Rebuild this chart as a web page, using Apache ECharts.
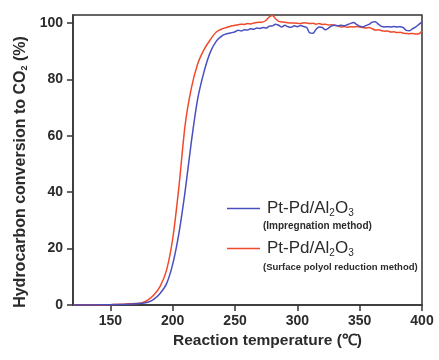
<!DOCTYPE html>
<html>
<head>
<meta charset="utf-8">
<script src="https://cdn.jsdelivr.net/npm/echarts@6/dist/echarts.min.js"></script>
<style>
html,body{margin:0;padding:0;background:#fff;}
#chart{width:439px;height:360px;}
</style>
</head>
<body>
<div id="chart"></div>
<script>
// Reaction temperature (°C)
var temps = [
  120,125,130,135,140,145,150,155,160,165,170,175,180,185,190,195,200,205,210,215,220,225,230,235,
  240,242.5,245,247.5,250,252.5,255,257.5,260,262.5,265,267.5,270,272.5,275,277.5,280,282.5,285,287.5,
  290,292.5,295,297.5,300,302.5,305,307.5,310,312.5,315,317.5,320,322.5,325,327.5,330,332.5,335,337.5,
  340,342.5,345,347.5,350,352.5,355,357.5,360,362.5,365,367.5,370,372.5,375,377.5,380,382.5,385,387.5,
  390,392.5,395,397.5,400
];
// Pt-Pd/Al2O3 (Impregnation method)
var impregnation = [
  0,0,0,0,0,0.1,0.1,0.2,0.2,0.3,0.4,0.6,1.0,2.1,4.2,7.5,14.5,25.5,40.5,58,73,82.5,89.5,93.6,
  95.6,96.1,96.4,96.6,96.9,97.4,97.2,97.6,97.5,98.0,97.8,98.2,98.1,98.4,98.2,98.9,99.0,99.6,99.2,98.6,
  99.2,98.7,98.5,99.0,98.7,99.1,98.8,98.4,96.5,96.4,97.8,98.6,98.4,97.6,98.2,99.0,99.2,99.0,99.2,99.0,
  99.4,99.8,100.2,99.5,98.9,98.6,99.1,99.5,100.3,100.5,99.6,98.8,98.6,98.7,98.6,98.8,98.6,98.7,98.4,97.4,
  97.3,98.0,98.6,99.5,100.4
];
// Pt-Pd/Al2O3 (Surface polyol reduction method)
var polyol = [
  0,0,0,0,0,0,0.1,0.2,0.3,0.4,0.5,0.7,1.7,3.6,6.7,12.3,23.5,42,64,77,85.5,90.5,94,96.8,
  98.0,98.3,98.7,99.0,99.2,99.4,99.6,99.5,99.8,99.7,100.0,100.2,100.3,100.4,101.0,102.2,102.7,101.5,100.6,100.4,
  100.3,100.1,100.0,100.0,99.9,99.8,100.1,100.0,99.8,99.9,99.6,99.8,99.5,99.6,99.3,99.4,99.2,99.0,98.6,98.8,
  98.5,98.7,98.6,98.8,98.6,98.4,98.2,98.4,98.0,97.5,97.6,97.3,97.1,97.2,96.8,96.9,96.6,96.7,96.4,96.3,
  96.2,96.3,96.1,96.2,97.2
];
var xTicks = [150,200,250,300,350,400];
var yTicks = [0,20,40,60,80,100];

function pairs(xs, ys){ return xs.map(function(x,i){ return [x, ys[i]]; }); }

var FONT = 'Liberation Sans, Arial, sans-serif';
var TXT = '#2b2b2b';
var chart = echarts.init(document.getElementById('chart'), null, {renderer:'canvas'});
var legRich = {
  a:{fontSize:17, fontFamily:FONT, color:TXT},
  s:{fontSize:10, fontFamily:FONT, color:TXT, verticalAlign:'bottom', padding:[9,0,0,0]}
};
chart.setOption({
  backgroundColor:'#ffffff',
  animation:false,
  grid:{left:73, right:17, top:15, bottom:55, show:true, borderColor:'#333', borderWidth:1.5, backgroundColor:'transparent'},
  xAxis:{
    type:'value', min:120, max:400,
    name:'Reaction temperature (℃)', nameLocation:'middle', nameGap:27,
    nameTextStyle:{fontSize:15.5, fontWeight:'bold', fontFamily:FONT, color:TXT, padding:[0,0,0,40]},
    axisLine:{show:true, lineStyle:{color:'#333', width:1.5}},
    axisTick:{show:true, inside:false, length:6, lineStyle:{color:'#333', width:1.5}, customValues:xTicks},
    axisLabel:{fontSize:14, fontWeight:'bold', fontFamily:FONT, color:TXT, margin:9, customValues:xTicks},
    splitLine:{show:false}
  },
  yAxis:{
    type:'value', min:0, max:102.85,
    name:'{a|Hydrocarbon conversion to CO}{s|2}{a| (%)}', nameLocation:'middle', nameGap:41, nameRotate:90,
    nameTextStyle:{padding:[0,24,0,0], rich:{
      a:{fontSize:16, fontWeight:'bold', fontFamily:FONT, color:TXT},
      s:{fontSize:9, fontWeight:'bold', fontFamily:FONT, color:TXT, verticalAlign:'bottom', padding:[8,0,0,0]}
    }},
    axisLine:{show:true, lineStyle:{color:'#333', width:1.5}},
    axisTick:{show:true, inside:false, length:6, lineStyle:{color:'#333', width:1.5}, customValues:yTicks},
    axisLabel:{fontSize:14, fontWeight:'bold', fontFamily:FONT, color:TXT, margin:10, customValues:yTicks},
    splitLine:{show:false}
  },
  legend:{
    orient:'vertical', left:222, top:195, itemWidth:33, itemHeight:1.5, itemGap:22,
    icon:'rect',
    data:['Impregnation','Polyol'],
    formatter:function(){ return '{a|Pt-Pd/Al}{s|2}{a|O}{s|3}'; },
    textStyle:{rich:legRich, padding:[0,0,0,2]}
  },
  graphic:[
    {type:'text', left:263, top:221, style:{text:'(Impregnation method)', fontSize:10, fontWeight:'bold', fontFamily:FONT, fill:TXT}},
    {type:'text', left:263, top:262, style:{text:'(Surface polyol reduction method)', fontSize:9.5, fontWeight:'bold', fontFamily:FONT, fill:TXT}}
  ],
  series:[
    {name:'Impregnation', type:'line', data:pairs(temps, impregnation), symbol:'none', smooth:0.3,
     lineStyle:{color:'#4a4fbf', width:1.5}, itemStyle:{color:'#4a4fbf'}, z:3},
    {name:'Polyol', type:'line', data:pairs(temps, polyol), symbol:'none', smooth:0.3,
     lineStyle:{color:'#f2492a', width:1.5}, itemStyle:{color:'#f2492a'}, z:2}
  ]
});
</script>
</body>
</html>
